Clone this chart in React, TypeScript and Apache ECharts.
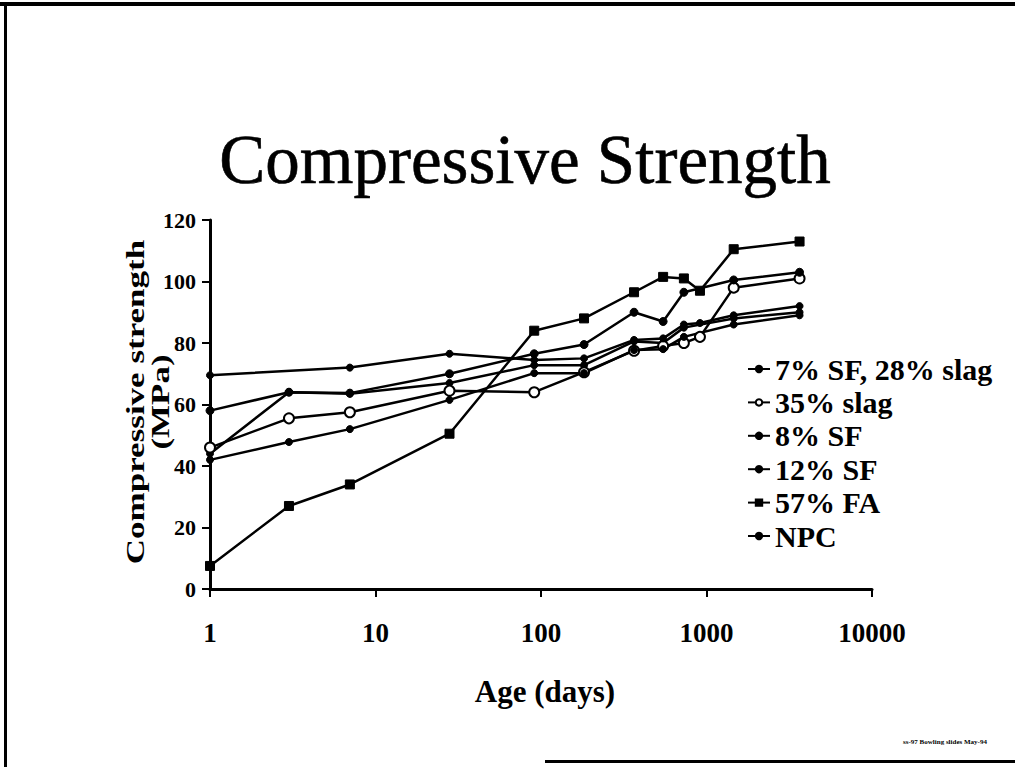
import React, { useEffect, useRef } from "react";
import * as echarts from "echarts";

const ages = [1, 3, 7, 28, 91, 182, 365, 547, 730, 913, 1460, 3650];
const sf7slag28 = [44, 64, 63.5, 67, 72.8, 72.8, 80.5, 80, 85, null, 88, 90];
const slag35 = [46, 55.5, 57.5, 64.5, 64, 70.5, 77.5, 79, 80, 82, 98, 101];
const sf8 = [58, 64, 63.7, 70, 76.5, 79.5, 90, 87, 96.5, null, 100.5, 103];
const sf12 = [69.5, null, 72, 76.5, 74.5, 75, 81, 81.5, 86, 86.5, 89, 92];
const fa57 = [7.5, 27, 34, 50.5, 84, 88, 96.5, 101.5, 101, 97, 110.5, 113];
const npc = [42, 47.8, 52, 61.5, 70.2, 70.2, 77.7, 78, 82, null, 86, 89];

const seriesNames = ["7% SF, 28% slag", "35% slag", "8% SF", "12% SF", "57% FA", "NPC"];
const seriesValues = [sf7slag28, slag35, sf8, sf12, fa57, npc];
const seriesSymbols = ["circle", "emptyCircle", "circle", "circle", "rect", "circle"];
const seriesSymbolSizes = [7, 10, 8, 7, 9, 7];

const yTicks = { min: 0, max: 120, interval: 20 };
const xRange = { min: 1, max: 10000 };

const SERIF = "'Liberation Serif', 'Times New Roman', serif";

export default function App() {
  const ref = useRef<HTMLDivElement>(null);
  useEffect(() => {
    if (!ref.current) return;
    const chart = echarts.init(ref.current, undefined, { renderer: "svg" });
    const series = seriesNames.map((name, i) => ({
      name,
      type: "line",
      connectNulls: true,
      data: ages
        .map((a, j) => [a, seriesValues[i][j]])
        .filter((p) => p[1] !== null),
      symbol: seriesSymbols[i],
      symbolSize: seriesSymbolSizes[i],
      showSymbol: true,
      lineStyle: { color: "#000", width: 2.5 },
      itemStyle: {
        color: "#000",
        borderColor: "#000",
        borderWidth: seriesSymbols[i] === "emptyCircle" ? 2.5 : 1,
      },
      z: 2,
    }));
    chart.setOption({
      animation: false,
      backgroundColor: "#fff",
      grid: { left: 210, top: 220, width: 662, height: 369, containLabel: false },
      xAxis: {
        type: "log",
        logBase: 10,
        min: xRange.min,
        max: xRange.max,
        axisLine: { show: true, lineStyle: { color: "#000", width: 3 } },
        axisTick: { show: true, length: 8, lineStyle: { color: "#000", width: 2 } },
        minorTick: { show: false },
        splitLine: { show: false },
        axisLabel: {
          color: "#000",
          fontFamily: SERIF,
          fontWeight: "bold",
          fontSize: 27,
          margin: 30,
          formatter: (v: number) => String(Math.round(v)),
        },
      },
      yAxis: {
        type: "value",
        min: yTicks.min,
        max: yTicks.max,
        interval: yTicks.interval,
        axisLine: { show: true, lineStyle: { color: "#000", width: 3 } },
        axisTick: { show: true, length: 8, lineStyle: { color: "#000", width: 2 } },
        splitLine: { show: false },
        axisLabel: {
          color: "#000",
          fontFamily: SERIF,
          fontWeight: "bold",
          fontSize: 22,
          margin: 14,
        },
      },
      legend: {
        show: true,
        orient: "vertical",
        left: 742,
        top: 349,
        itemWidth: 22,
        itemHeight: 8,
        itemGap: 3.4,
        data: seriesNames,
        textStyle: {
          color: "#000",
          fontFamily: SERIF,
          fontWeight: "bold",
          fontSize: 30,
          lineHeight: 30,
        },
      },
      graphic: [
        {
          type: "text",
          x: 525,
          y: 160,
          style: {
            text: "Compressive Strength",
            fontFamily: SERIF,
            fontSize: 69,
            fill: "#000",
            stroke: "#000",
            lineWidth: 0.6,
            textAlign: "center",
            textVerticalAlign: "middle",
          },
        },
        {
          type: "text",
          x: 148,
          y: 402,
          rotation: Math.PI / 2,
          scaleX: 1.4,
          style: {
            text: "Compressive strength\n(MPa)",
            fontFamily: SERIF,
            fontWeight: "bold",
            fontSize: 25,
            lineHeight: 25,
            fill: "#000",
            textAlign: "center",
            textVerticalAlign: "middle",
          },
        },
        {
          type: "text",
          x: 545,
          y: 691,
          style: {
            text: "Age (days)",
            fontFamily: SERIF,
            fontWeight: "bold",
            fontSize: 31,
            fill: "#000",
            textAlign: "center",
            textVerticalAlign: "middle",
          },
        },
        {
          type: "text",
          x: 945,
          y: 742,
          style: {
            text: "ss-97 Bowling slides May-94",
            fontFamily: SERIF,
            fontWeight: "bold",
            fontSize: 7,
            fill: "#000",
            textAlign: "center",
            textVerticalAlign: "middle",
          },
        },
        { type: "rect", shape: { x: 0, y: 2, width: 1015, height: 4 }, style: { fill: "#000" } },
        { type: "rect", shape: { x: 4, y: 2, width: 3, height: 765 }, style: { fill: "#000" } },
        { type: "rect", shape: { x: 545, y: 760, width: 470, height: 3 }, style: { fill: "#000" } },
      ],
      series,
    });
    return () => chart.dispose();
  }, []);
  return (
    <div
      ref={ref}
      style={{ position: "fixed", left: 0, top: 0, width: 1015, height: 767, background: "#fff" }}
    />
  );
}
